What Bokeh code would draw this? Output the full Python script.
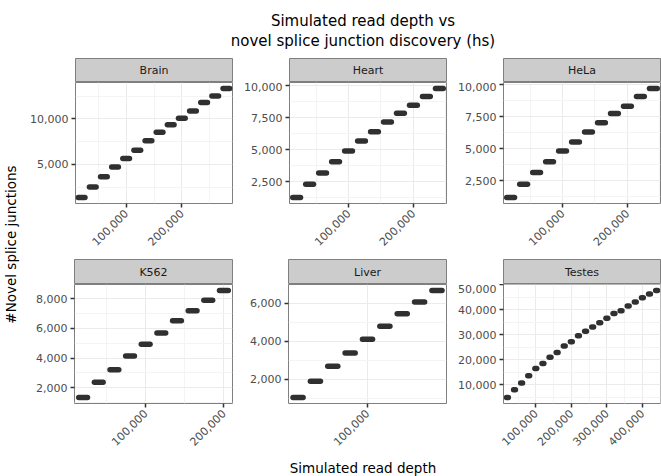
import math
from bokeh.plotting import figure
from bokeh.models import Range1d, FixedTicker, NumeralTickFormatter
from bokeh.layouts import row, column
from bokeh.core.properties import value
from bokeh.embed import file_html
from bokeh.resources import INLINE

# ---------------- data ----------------
TITLE_LINES = ["Simulated read depth vs", "novel splice junction discovery (hs)"]
X_LABEL = "Simulated read depth"
Y_LABEL = "#Novel splice junctions"

tissues = ["Brain", "Heart", "HeLa", "K562", "Liver", "Testes"]

brain_depth = [20000, 40000, 60000, 80000, 100000, 120000, 140000, 160000,
               180000, 200000, 220000, 240000, 260000, 280000]
brain_junctions = [1370, 2530, 3650, 4710, 5650, 6550, 7610, 8540,
                   9350, 10070, 10870, 11800, 12500, 13330]

heart_depth = [20000, 40000, 60000, 80000, 100000, 120000, 140000, 160000,
               180000, 200000, 220000, 240000]
heart_junctions = [1280, 2320, 3200, 4080, 4910, 5690, 6410, 7170,
                   7850, 8490, 9170, 9790]

hela_depth = [20000, 40000, 60000, 80000, 100000, 120000, 140000, 160000,
              180000, 200000, 220000, 240000]
hela_junctions = [1200, 2240, 3150, 4000, 4840, 5540, 6320, 7040,
                  7770, 8340, 9100, 9720]

k562_depth = [20000, 40000, 60000, 80000, 100000, 120000, 140000, 160000,
              180000, 200000]
k562_junctions = [1340, 2380, 3210, 4140, 4930, 5690, 6520, 7190, 7890, 8560]

liver_depth = [20000, 40000, 60000, 80000, 100000, 120000, 140000, 160000, 180000]
liver_junctions = [1050, 1910, 2690, 3390, 4100, 4780, 5440, 6050, 6660]

testes_depth = [20000, 40000, 60000, 80000, 100000, 120000, 140000, 160000,
                180000, 200000, 220000, 240000, 260000, 280000, 300000, 320000,
                340000, 360000, 380000, 400000, 420000, 440000]
testes_junctions = [4780, 7900, 10620, 13510, 16470, 18420, 20920, 22870,
                    25440, 27150, 29490, 31290, 33000, 34680, 36510, 38460,
                    39470, 41420, 42980, 44700, 46260, 47660]

brain_xticks = [100000, 200000]
brain_yticks = [5000, 10000]
heart_xticks = [100000, 200000]
heart_yticks = [2500, 5000, 7500, 10000]
hela_xticks = [100000, 200000]
hela_yticks = [2500, 5000, 7500, 10000]
k562_xticks = [100000, 200000]
k562_yticks = [2000, 4000, 6000, 8000]
liver_xticks = [100000]
liver_yticks = [2000, 4000, 6000]
testes_xticks = [100000, 200000, 300000, 400000]
testes_yticks = [10000, 20000, 30000, 40000, 50000]

panels = [
    ("Brain", brain_depth, brain_junctions, brain_xticks, brain_yticks),
    ("Heart", heart_depth, heart_junctions, heart_xticks, heart_yticks),
    ("HeLa", hela_depth, hela_junctions, hela_xticks, hela_yticks),
    ("K562", k562_depth, k562_junctions, k562_xticks, k562_yticks),
    ("Liver", liver_depth, liver_junctions, liver_xticks, liver_yticks),
    ("Testes", testes_depth, testes_junctions, testes_xticks, testes_yticks),
]

# ---------------- styling / layout constants ----------------
FONT = value("DejaVu Sans")
POINT_COLOR = "#303030"
STRIP_FILL = "#cccccc"
BORDER = "#7f7f7f"
GRID_MAJOR = "#ebebeb"
GRID_MINOR = "#f4f4f4"

YLAB_W = 27
LEFT_B = 47
FRAME_W = 158
RIGHT_B = [9, 9, 1]
TITLE_H = 58
STRIP_H = [24, 25]
FRAME_H = [121, 122]
BOTTOM_B = [56, 46]
XLAB_H = 24
# visual half-width of each jittered cluster (fraction of depth step)
JITTER = {"Brain": 0.3, "Heart": 0.3, "HeLa": 0.3, "K562": 0.28, "Liver": 0.29, "Testes": 0.13}


def minor_of(ticks):
    if len(ticks) < 2:
        return []
    d = ticks[1] - ticks[0]
    return [ticks[0] - d / 2] + [t + d / 2 for t in ticks]


def make_strip(name, col, r):
    w = LEFT_B + FRAME_W + RIGHT_B[col]
    s = figure(width=w, height=STRIP_H[r], x_range=Range1d(0, 1), y_range=Range1d(0, 1),
               toolbar_location=None, output_backend="svg",
               x_axis_location=None, y_axis_location=None,
               min_border_left=LEFT_B, min_border_right=RIGHT_B[col],
               min_border_top=0, min_border_bottom=0)
    s.grid.visible = False
    s.background_fill_color = STRIP_FILL
    s.border_fill_color = "white"
    s.outline_line_color = BORDER
    s.outline_line_width = 1
    s.text(x=[0.5], y=[0.5], text=[name], text_align="center", text_baseline="middle",
           text_font=FONT, text_font_size="11px", text_color="#1a1a1a")
    return s


def make_panel(name, depth, junc, xt, yt, col, r):
    w = LEFT_B + FRAME_W + RIGHT_B[col]
    h = FRAME_H[r] + BOTTOM_B[r]
    step = depth[1] - depth[0]
    xr = Range1d(min(depth) - 0.55 * step, max(depth) + 0.55 * step)
    span = max(junc) - min(junc)
    yr = Range1d(min(junc) - 0.055 * span, max(junc) + 0.055 * span)
    p = figure(width=w, height=h, x_range=xr, y_range=yr,
               toolbar_location=None, output_backend="svg",
               min_border_left=LEFT_B, min_border_right=RIGHT_B[col],
               min_border_top=0, min_border_bottom=BOTTOM_B[r])
    p.background_fill_color = "white"
    p.border_fill_color = "white"
    p.outline_line_color = BORDER
    p.outline_line_width = 1

    xtick = FixedTicker(ticks=xt, minor_ticks=minor_of(xt) if len(xt) > 1 else [])
    ytick = FixedTicker(ticks=yt, minor_ticks=minor_of(yt))
    p.xaxis.ticker = xtick
    p.xgrid.ticker = xtick
    p.yaxis.ticker = ytick
    p.ygrid.ticker = ytick
    p.grid.grid_line_color = GRID_MAJOR
    p.grid.grid_line_width = 1
    p.grid.minor_grid_line_color = GRID_MINOR
    p.grid.minor_grid_line_width = 1

    for ax in (p.xaxis[0], p.yaxis[0]):
        ax.formatter = NumeralTickFormatter(format="0,0")
        ax.axis_line_color = None
        ax.minor_tick_line_color = None
        ax.major_tick_line_color = "#333333"
        ax.major_tick_line_width = 1.5
        ax.major_tick_out = 4
        ax.major_tick_in = 0
        ax.major_label_text_font = "DejaVu Sans"
        ax.major_label_text_font_size = "11px"
        ax.major_label_text_color = "#4d4d4d"
    p.yaxis.major_label_standoff = 3
    p.xaxis.major_label_standoff = 4
    p.xaxis.major_label_orientation = math.pi / 4

    jw = JITTER[name] * step
    x0 = [d - jw for d in depth]
    x1 = [d + jw for d in depth]
    p.segment(x0=x0, y0=junc, x1=x1, y1=junc, line_width=5.5, line_cap="round",
              line_color=POINT_COLOR)
    return p


cells = []
for i, (name, depth, junc, xt, yt) in enumerate(panels):
    r, c = divmod(i, 3)
    cells.append(column(make_strip(name, c, r), make_panel(name, depth, junc, xt, yt, c, r)))

grid = column(row(*cells[0:3]), row(*cells[3:6]))
TOTAL_W = YLAB_W + 3 * (LEFT_B + FRAME_W) + sum(RIGHT_B)
GRID_H = sum(STRIP_H) + sum(FRAME_H) + sum(BOTTOM_B)


def blank(w, h):
    f = figure(width=w, height=h, x_range=Range1d(0, w), y_range=Range1d(0, h),
               toolbar_location=None, output_backend="svg",
               x_axis_location=None, y_axis_location=None, min_border=0)
    f.grid.visible = False
    f.outline_line_color = None
    f.background_fill_color = "white"
    f.border_fill_color = "white"
    return f


CENTER_X = 362.5

tf = blank(TOTAL_W, TITLE_H)
tf.text(x=[CENTER_X, CENTER_X], y=[TITLE_H - 20, TITLE_H - 40.7], text=TITLE_LINES,
        text_align="center", text_baseline="middle", text_font=FONT,
        text_font_size="15px", text_color="black")

yf = blank(YLAB_W, GRID_H)
yf.text(x=[10.5], y=[GRID_H - 186], text=[Y_LABEL], angle=math.pi / 2,
        text_align="center", text_baseline="middle", text_font=FONT,
        text_font_size="13.5px", text_color="black")

xf = blank(TOTAL_W, XLAB_H)
xf.text(x=[CENTER_X], y=[XLAB_H - 15], text=[X_LABEL],
        text_align="center", text_baseline="middle", text_font=FONT,
        text_font_size="13.5px", text_color="black")

root = column(tf, row(yf, grid), xf)

open("out.html", "w").write(file_html(root, INLINE))
